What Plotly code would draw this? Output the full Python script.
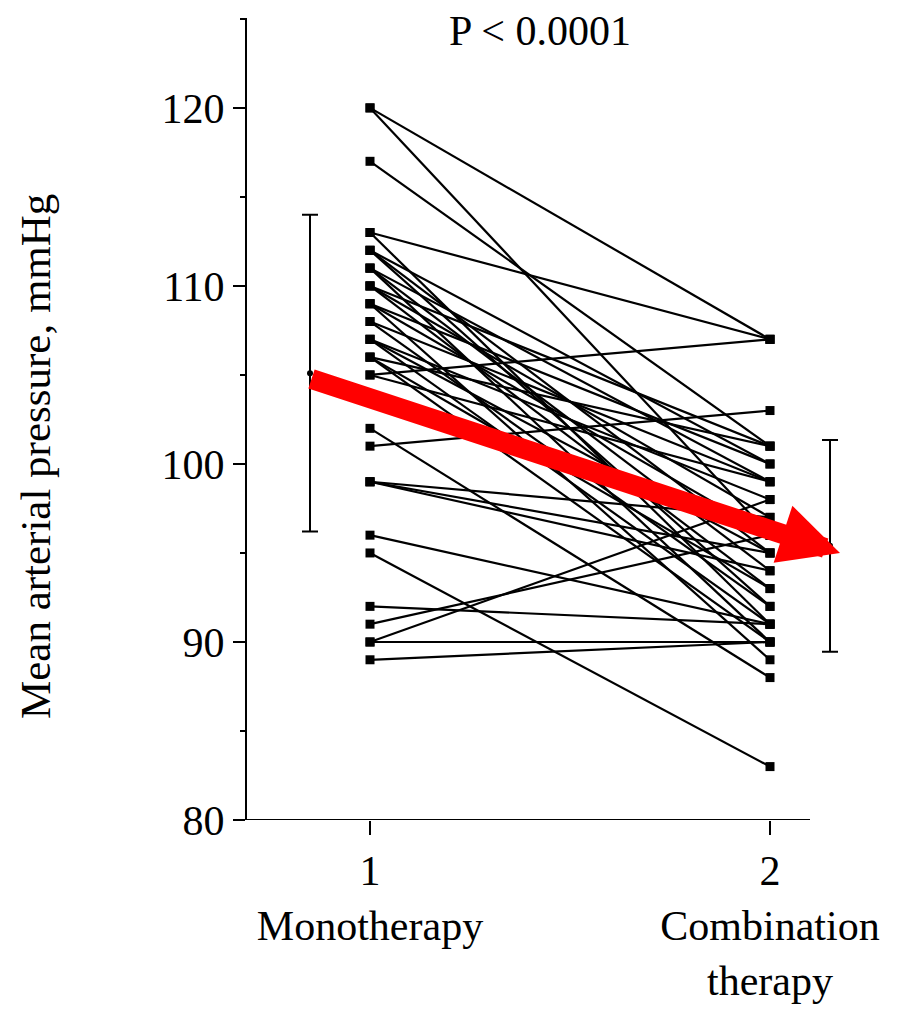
import plotly.graph_objects as go

# ---- data ----
monotherapy = [120, 120, 117, 113, 113, 112, 112, 112, 111, 111, 111, 110, 110, 110,
               109, 109, 109, 108, 108, 107, 107, 107, 106, 106, 106, 105, 105,
               102, 101, 99, 99, 99, 96, 95, 92, 91, 90, 90, 89]
combination = [107, 96, 101, 107, 91, 100, 95, 92, 99, 94, 90, 101, 97, 93,
               100, 96, 89, 99, 92, 98, 95, 91, 101, 93, 90, 107, 99,
               88, 103, 97, 95, 94, 91, 83, 91, 96, 98, 90, 90]
group_x = [1, 2]
group_labels = ["1<br>Monotherapy", "2<br>Combination<br>therapy"]
summary_x = [0.85, 2.15]
summary_mean = [105.1, 95.4]
summary_sd = [8.9, 5.95]
y_ticks = [80, 90, 100, 110, 120]

FONT = "Liberation Serif, Times New Roman, serif"

xs, ys = [], []
for a, b in zip(monotherapy, combination):
    xs += [group_x[0], group_x[1], None]
    ys += [a, b, None]

fig = go.Figure()
fig.add_trace(go.Scatter(
    x=xs, y=ys, mode="lines+markers",
    line=dict(color="black", width=2.2),
    marker=dict(symbol="square", size=9, color="black"),
    showlegend=False, hoverinfo="skip"))

fig.add_trace(go.Scatter(
    x=summary_x, y=summary_mean, mode="markers",
    marker=dict(symbol="circle", size=6, color="black"),
    error_y=dict(type="data", array=summary_sd, visible=True,
                 color="black", thickness=2, width=8),
    showlegend=False, hoverinfo="skip"))

# mean change arrow
fig.add_annotation(
    x=2.175, y=95.0, ax=summary_x[0], ay=104.8,
    xref="x", yref="y", axref="x", ayref="y",
    text="", showarrow=True, arrowhead=2, arrowsize=0.6,
    arrowwidth=20, arrowcolor="#ff0000", standoff=0)

fig.add_annotation(
    x=1.425, y=124.3, xref="x", yref="y", text="P < 0.0001",
    showarrow=False, font=dict(family=FONT, size=42, color="black"),
    xanchor="center", yanchor="middle")

fig.add_annotation(
    x=-0.3297, y=0.4526, xref="paper", yref="paper",
    text="Mean arterial pressure, mmHg", textangle=-90,
    showarrow=False, font=dict(family=FONT, size=43, color="black"),
    xanchor="center", yanchor="middle")

# x axis line (shorter than plotting area)
fig.add_shape(type="line", xref="x", yref="y", x0=0.6925, x1=2.1, y0=80, y1=80,
              line=dict(color="black", width=2))

fig.update_layout(
    width=893, height=1004, autosize=False,
    margin=dict(l=239, r=11, t=10, b=192),
    paper_bgcolor="white", plot_bgcolor="white",
    font=dict(family=FONT, size=42, color="black"),
    xaxis=dict(range=[0.6925, 2.3], tickvals=group_x, ticktext=group_labels,
               ticks="outside", ticklen=14, tickwidth=2, tickcolor="black",
               showline=False, showgrid=False, zeroline=False, automargin=False,
               tickfont=dict(family=FONT, size=42, color="black")),
    yaxis=dict(range=[80, 125.05], tickvals=y_ticks,
               ticks="outside", ticklen=12, tickwidth=2, tickcolor="black",
               showline=True, linecolor="black", linewidth=2,
               showgrid=False, zeroline=False, automargin=False,
               minor=dict(ticks="outside", ticklen=5, tickwidth=2,
                          tickcolor="black", tick0=80, dtick=5),
               tickfont=dict(family=FONT, size=42, color="black")),
)

fig.write_html("out.html")
